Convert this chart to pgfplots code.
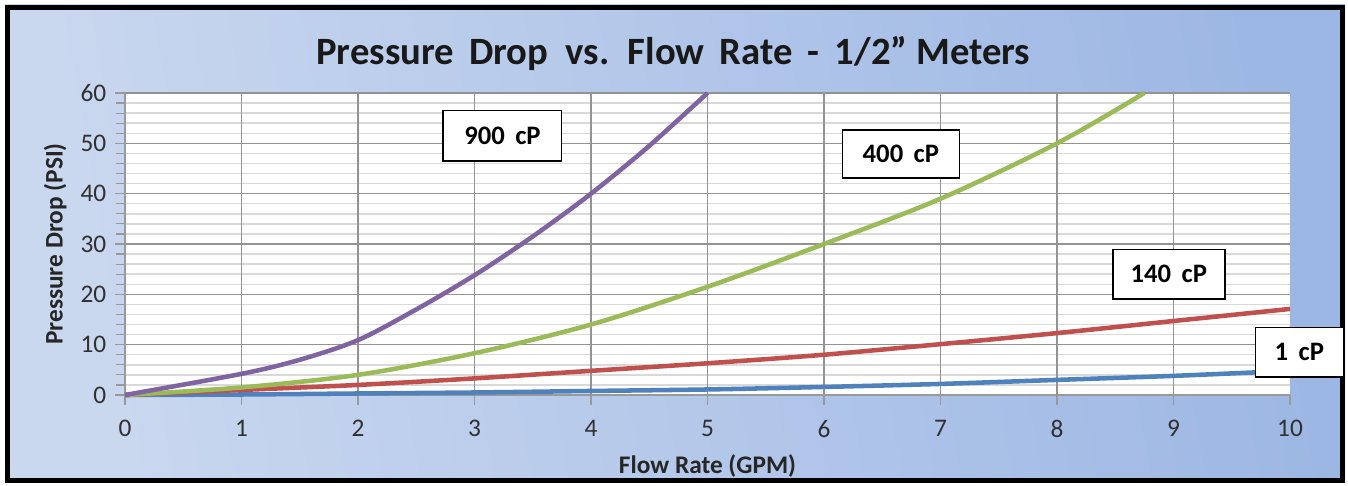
\documentclass[border=0pt]{standalone}
\usepackage{pgfplots}
\pgfplotsset{compat=1.18}
\usepackage{fontspec}
\setmainfont{Carlito}
\definecolor{cpurple}{HTML}{8064A2}
\definecolor{cgreen}{HTML}{9BBB59}
\definecolor{cred}{HTML}{C0504D}
\definecolor{cblue}{HTML}{4F81BD}
\definecolor{bgl}{HTML}{CAD8EF}
\definecolor{bgr}{HTML}{9DB7E4}
\definecolor{ticktxt}{HTML}{303030}
\begin{document}
\begin{tikzpicture}[x=1pt,y=1pt]
\fill[white] (0,0) rectangle (1011,363.75);
\shade[left color=bgl, right color=bgr, shading angle=100] (3.75,1.5) rectangle (1008.75,360);
\draw[black, line width=3.75pt] (5.6,3.4) rectangle (1006.9,358.1);
\node[font=\bfseries\fontsize{29}{34}\selectfont, text=black!90] at (505,324) {Pressure\, Drop \ vs.\, Flow\, Rate\, -\, 1/2" Meters};
\begin{axis}[
  at={(93.75pt,67.5pt)}, anchor=south west,
  scale only axis, width=873.75pt, height=226.5pt,
  xmin=0, xmax=10, ymin=0, ymax=60,
  xtick={0,10}, ytick={0,10,...,60},
  extra x ticks={1,2,...,9},
  extra x tick style={grid=major, major grid style={gray!85, line width=0.9pt}},
  minor ytick={2,4,6,8,12,14,16,18,22,24,26,28,32,34,36,38,42,44,46,48,52,54,56,58},
  major grid style={gray!85, line width=0.9pt},
  minor grid style={gray!30, line width=1.1pt},
  xmajorgrids=false, ymajorgrids=true, yminorgrids=true,
  axis background/.style={fill=white},
  axis line style={gray!80, line width=0.9pt},
  tick style={gray!80, line width=0.9pt},
  tick align=outside,
  major tick length=7.5pt, minor tick length=7pt,
  xtick pos=bottom, ytick pos=left,
  axis x line*=bottom, axis y line*=left,
  /pgf/number format/assume math mode=true,
  tick label style={font=\fontsize{19}{22}\selectfont, text=ticktxt},
  xticklabel style={yshift=-8pt},
  yticklabel style={xshift=-3pt},
  xlabel={Flow Rate (GPM)}, ylabel={Pressure Drop (PSI)},
  label style={font=\bfseries\fontsize{19}{22}\selectfont, text=black!85},
  xlabel style={at={(axis description cs:0.5,-0.235)}, anchor=center},
  ylabel style={at={(axis description cs:-0.060,0.5)}, anchor=center},
  clip=false,
]
\addplot[cblue, line width=3.4pt, smooth] coordinates {(0,0) (1,0.1) (2,0.3) (3,0.5) (4,0.8) (5,1.1) (6,1.6) (7,2.2) (8,3.0) (9,3.8) (10,4.8)};
\addplot[cred, line width=3.4pt, smooth] coordinates {(0,0) (1,1.0) (2,2.0) (3,3.3) (4,4.8) (5,6.3) (6,8.0) (7,10.1) (8,12.3) (9,14.7) (10,17.1)};
\addplot[cgreen, line width=3.4pt, smooth] coordinates {(0,0) (1,1.5) (2,4.0) (3,8.3) (4,14.0) (5,21.5) (6,30.0) (7,39.0) (8,50.0) (8.75,60)};
\addplot[cpurple, line width=3.4pt, smooth] coordinates {(0,0) (1,4.2) (1.5,7.0) (2,10.9) (2.5,17.0) (3,23.8) (3.5,31.5) (4,40.0) (4.5,49.5) (5,60)};
\tikzset{lbl/.style={draw=black, line width=1pt, fill=white, font=\bfseries\fontsize{20}{23}\selectfont, minimum height=38pt, inner sep=0pt, anchor=center}}
\node[lbl, minimum width=89pt] at (axis cs:3.24,51.5) {900\, cP};
\node[lbl, minimum width=88pt, minimum height=36pt] at (axis cs:6.66,47.9) {400\, cP};
\node[lbl, minimum width=84pt, minimum height=37pt] at (axis cs:8.96,24.0) {140\, cP};
\node[lbl, minimum width=66pt, minimum height=37pt] at (axis cs:10.08,8.5) {1\, cP};
\end{axis}
\end{tikzpicture}
\end{document}
